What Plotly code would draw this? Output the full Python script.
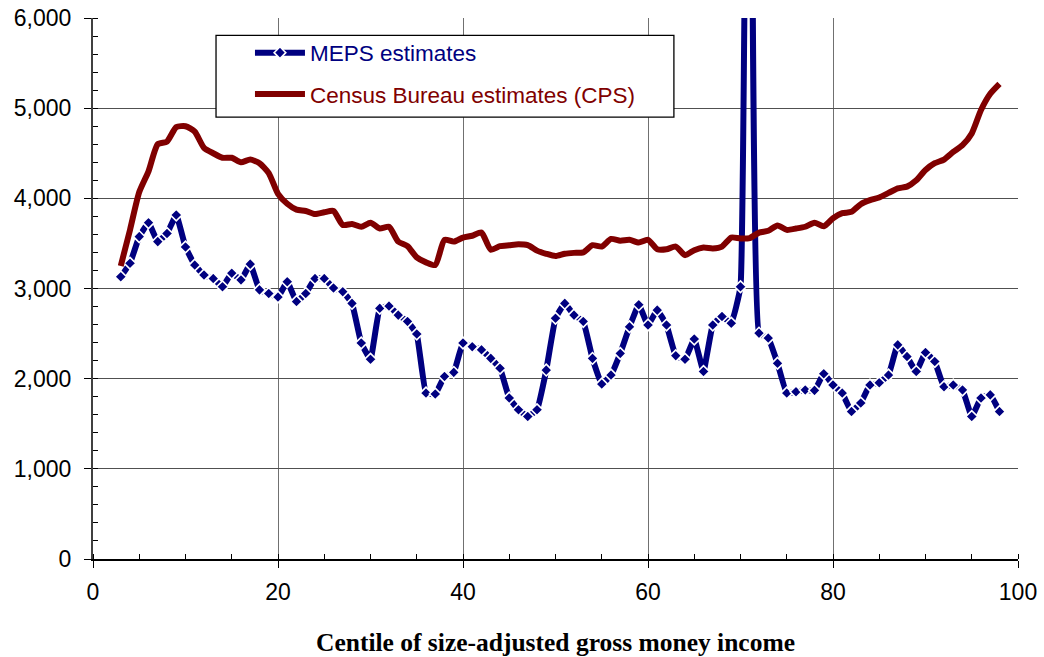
import plotly.graph_objects as go

centiles = list(range(3, 99))

census = [3250, 3650, 4070, 4300, 4600, 4630, 4790, 4800, 4740, 4560,
          4500, 4450, 4450, 4400, 4430, 4390, 4280, 4050, 3940, 3875,
          3860, 3825, 3845, 3860, 3705, 3715, 3685, 3730, 3665, 3685,
          3520, 3470, 3345, 3290, 3260, 3540, 3520, 3565, 3585, 3620,
          3430, 3470, 3480, 3490, 3480, 3420, 3385, 3360, 3385, 3395,
          3400, 3480, 3465, 3550, 3530, 3540, 3510, 3540, 3435, 3435,
          3465, 3370, 3425, 3455, 3445, 3465, 3565, 3555, 3560, 3620,
          3640, 3700, 3650, 3665, 3685, 3730, 3690, 3780, 3835, 3850,
          3935, 3980, 4010, 4060, 4110, 4130, 4200, 4315, 4390, 4430,
          4515, 4590, 4720, 4980, 5160, 5270]

meps = [3130, 3280, 3575, 3730, 3520, 3610, 3815, 3460, 3260, 3150,
        3110, 3020, 3170, 3095, 3270, 2985, 2945, 2905, 3075, 2855,
        2945, 3110, 3110, 3005, 2965, 2835, 2395, 2215, 2780, 2805,
        2705, 2635, 2495, 1840, 1830, 2025, 2070, 2395, 2355, 2320,
        2225, 2115, 1785, 1655, 1580, 1655, 2095, 2670, 2835, 2705,
        2635, 2225, 1940, 2040, 2280, 2575, 2820, 2595, 2760, 2595,
        2255, 2215, 2440, 2080, 2595, 2690, 2615, 3020, 14500, 2505,
        2450, 2170, 1840, 1855, 1875, 1870, 2055, 1930, 1840, 1635,
        1730, 1930, 1955, 2040, 2375, 2245, 2080, 2290, 2190, 1910,
        1930, 1875, 1580, 1785, 1820, 1635]

x_ticks = [0, 20, 40, 60, 80, 100]
y_ticks = [0, 1000, 2000, 3000, 4000, 5000, 6000]
series_names = ["MEPS estimates", "Census Bureau estimates (CPS)"]
x_title = "Centile of size-adjusted gross money income"

NAVY = "#000080"
MAROON = "#800000"
SANS = "Liberation Sans, Arial, sans-serif"
SERIF = "Liberation Serif, Times New Roman, serif"

fig = go.Figure()
fig.add_trace(go.Scatter(
    x=centiles, y=meps, mode="lines+markers",
    name=f"<span style='color:{NAVY}'>{series_names[0]}</span>",
    legendgroup="a",
    line=dict(color=NAVY, width=6, shape="spline", smoothing=0.3),
    marker=dict(symbol="diamond", size=9, color=NAVY,
                line=dict(color="white", width=1.6)),
))
fig.add_trace(go.Scatter(
    x=centiles, y=census, mode="lines",
    name=f"<span style='color:{MAROON}'>{series_names[1]}</span>",
    legendgroup="b",
    line=dict(color=MAROON, width=6, shape="spline", smoothing=0.6),
))

# legend frame
fig.add_shape(type="rect", xref="paper", yref="paper",
              x0=0.133, x1=0.628, y0=0.8167, y1=0.968,
              fillcolor="white", line=dict(color="black", width=1.3),
              layer="above")

fig.update_layout(
    width=1044, height=657,
    margin=dict(l=93, r=26, t=18, b=98),
    plot_bgcolor="white", paper_bgcolor="white",
    font=dict(family=SANS, color="black", size=22),
    showlegend=True,
    legend=dict(
        x=0.1697, y=0.975, xanchor="left", yanchor="top",
        bgcolor="rgba(0,0,0,0)", borderwidth=0,
        font=dict(family=SANS, size=22.5),
        itemwidth=50, traceorder="grouped", tracegroupgap=9,
    ),
    xaxis=dict(
        range=[0, 100], tickvals=x_ticks, automargin=False,
        ticks="outside", ticklen=7, tickcolor="black", tickwidth=1.3,
        minor=dict(dtick=5, ticks="inside", ticklen=5, tickcolor="black", tickwidth=1.3, showgrid=False),
        showgrid=True, gridcolor="#707070", gridwidth=1.3,
        showline=True, linecolor="black", linewidth=2, zeroline=False,
        tickfont=dict(family=SANS, size=23, color="black"),
        ticklabelstandoff=4,
        title=dict(text=x_title, standoff=30,
                   font=dict(family=SERIF, size=25.5, color="black", weight="bold")),
    ),
    yaxis=dict(
        range=[0, 6000], tickvals=y_ticks, tickformat=",", automargin=False,
        ticks="outside", ticklen=7, tickcolor="black", tickwidth=1.3,
        minor=dict(dtick=200, ticks="inside", ticklen=5, tickcolor="black", tickwidth=1.3, showgrid=False),
        showgrid=True, gridcolor="#505050", gridwidth=1.2,
        showline=True, linecolor="#404040", linewidth=2, zeroline=False,
        tickfont=dict(family=SANS, size=23, color="black"),
        ticklabelstandoff=8,
    ),
)

fig.write_html("out.html")
